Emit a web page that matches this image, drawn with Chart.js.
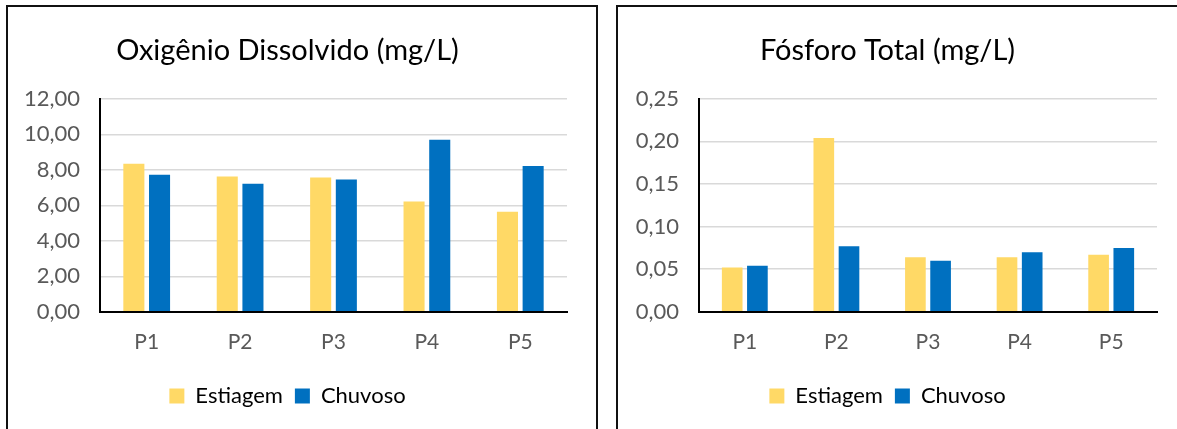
<!DOCTYPE html>
<html>
<head>
<meta charset="utf-8">
<script src="https://cdn.jsdelivr.net/npm/chart.js@4.4.0/dist/chart.umd.min.js"></script>
<style>
  html, body { margin: 0; padding: 0; background: #fff; overflow: hidden; width: 1177px; height: 429px; }
  .box { position: absolute; border: 2px solid #111; background: #fff; }
  #box1 { left: 6px; top: 5px; width: 588px; height: 440px; }
  #box2 { left: 616px; top: 5px; width: 580px; height: 440px; }
  canvas { display: block; }
</style>
</head>
<body>
<div class="box" id="box1"><canvas id="od" width="588" height="421"></canvas></div>
<div class="box" id="box2"><canvas id="pt" width="560" height="421"></canvas></div>
<script>
const pontos = ['P1', 'P2', 'P3', 'P4', 'P5'];
const series = ['Estiagem', 'Chuvoso'];

// Oxigênio Dissolvido (mg/L)
const odEstiagem = [8.34, 7.62, 7.57, 6.21, 5.64];
const odChuvoso = [7.72, 7.21, 7.45, 9.70, 8.21];

// Fósforo Total (mg/L)
const ptEstiagem = [0.052, 0.204, 0.064, 0.064, 0.067];
const ptChuvoso = [0.054, 0.077, 0.060, 0.070, 0.075];

const fontName = 'Lato, "Open Sans", sans-serif';
const amarelo = '#FFD966';
const azul = '#0070C0';

function fmt(v) {
    return v.toFixed(2).replace('.', ',');
}

function makeChart(id, titulo, est, chu, max, step, yWidth, padRight) {
    let ctx = document.getElementById(id).getContext('2d');
    return new Chart(ctx, {
        type: 'bar',
        data: {
            labels: pontos,
            datasets: [{
                label: series[0],
                data: est,
                backgroundColor: amarelo,
                borderWidth: 0
            }, {
                label: series[1],
                data: chu,
                backgroundColor: azul,
                borderWidth: 0
            }]
        },
        options: {
            responsive: false,
            animation: false,
            categoryPercentage: 0.55,
            barPercentage: 0.82,
            layout: { padding: { left: 0, right: padRight, top: 0, bottom: 11 } },
            plugins: {
                tooltip: { enabled: false },
                title: {
                    display: true,
                    text: titulo,
                    color: '#000',
                    font: { family: fontName, size: 29, weight: 'normal' },
                    padding: { top: 26, bottom: 31 }
                },
                legend: {
                    position: 'bottom',
                    labels: {
                        color: '#000',
                        font: { family: fontName, size: 22 },
                        boxWidth: 15,
                        boxHeight: 15,
                        padding: 12
                    }
                }
            },
            scales: {
                x: {
                    grid: { display: false, drawTicks: false },
                    border: { display: true, color: '#000', width: 2 },
                    ticks: { color: '#595959', font: { family: fontName, size: 21 }, padding: 18 }
                },
                y: {
                    min: 0,
                    max: max,
                    afterFit: function (scale) { scale.width = yWidth; },
                    grid: { color: '#D9D9D9', lineWidth: 1.5, drawTicks: false },
                    border: { display: true, color: '#000', width: 2 },
                    ticks: {
                        stepSize: step,
                        color: '#595959',
                        font: { family: fontName, size: 22 },
                        padding: 20,
                        callback: function (v) { return fmt(v); }
                    }
                }
            }
        }
    });
}

makeChart('od', 'Oxigênio Dissolvido (mg/L)', odEstiagem, odChuvoso, 12, 2, 92, 29);
makeChart('pt', 'Fósforo Total (mg/L)', ptEstiagem, ptChuvoso, 0.25, 0.05, 81, 21);
</script>
</body>
</html>
